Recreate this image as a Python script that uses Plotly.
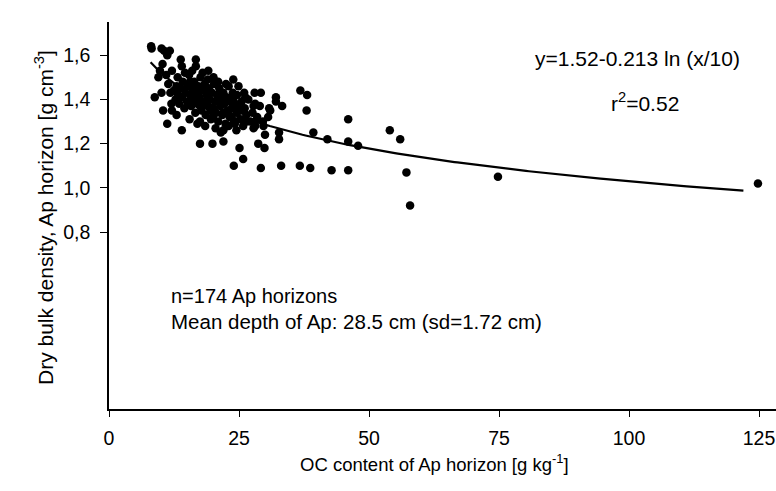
import numpy as np
import plotly.graph_objects as go

# Organic carbon content of the Ap horizon [g kg-1]
oc_content = [
    124.8, 74.8, 57.9, 57.2, 56.0, 54.0, 46.0, 46.0, 47.9, 46.0,
    42.8, 42.0, 39.3, 38.7, 36.7, 38.0, 38.1, 36.8, 33.1, 29.2,
    24.0, 25.8, 25.1, 29.9, 28.7, 32.7, 32.7, 30.0, 33.3, 32.1,
    32.1, 30.8, 30.6, 29.2, 28.1, 29.7, 28.1, 28.1, 26.5, 25.5,
    24.2, 23.6, 26.2, 24.6, 11.2, 14.0, 17.5, 19.9, 22.0, 17.5,
    27.8, 8.1, 10.1, 11.7, 11.2, 13.8, 16.7, 16.7, 10.3, 19.1,
    20.1, 23.9, 12.1, 14.6, 9.5, 8.8, 10.1, 10.4, 12.1, 27.8,
    31.0, 24.5, 22.0, 13.3, 15.6, 13.0, 11.4, 8.2, 10.6,
    12.5, 12.8, 13.2, 13.5, 13.8, 14.0, 14.2, 14.5, 14.7, 15.0,
    15.2, 15.4, 15.6, 15.8, 16.0, 16.2, 16.4, 16.6, 16.8, 17.0,
    17.2, 17.4, 17.6, 17.8, 18.0, 18.2, 18.4, 18.6, 18.8, 19.0,
    19.2, 19.4, 19.6, 19.8, 20.0, 20.2, 20.4, 20.6, 20.8, 21.0,
    21.2, 21.4, 21.6, 21.8, 22.0, 22.2, 22.4, 22.6, 22.8, 23.0,
    23.2, 23.4, 23.6, 23.8, 24.0, 24.3, 24.6, 24.9, 25.2, 25.5,
    25.8, 26.1, 26.4, 26.8, 27.2, 27.6, 28.0, 28.5, 29.0, 29.6,
    13.0, 15.5, 17.0, 18.5, 20.5, 21.5, 19.0, 21.0, 22.5, 16.0,
    18.0, 14.0, 11.8, 12.0, 11.0, 9.8, 20.0, 22.0, 24.0, 26.0,
    23.0, 25.0, 17.5, 19.5, 16.5,
]

# Dry bulk density of the Ap horizon [g cm-3]
bulk_density = [
    1.02, 1.05, 0.92, 1.07, 1.22, 1.26, 1.31, 1.21, 1.19, 1.08,
    1.08, 1.22, 1.25, 1.09, 1.10, 1.35, 1.42, 1.44, 1.10, 1.09,
    1.10, 1.13, 1.18, 1.18, 1.20, 1.22, 1.25, 1.24, 1.37, 1.41,
    1.39, 1.36, 1.32, 1.43, 1.38, 1.28, 1.28, 1.30, 1.30, 1.35,
    1.29, 1.32, 1.41, 1.42, 1.29, 1.26, 1.20, 1.20, 1.21, 1.30,
    1.27, 1.64, 1.63, 1.62, 1.60, 1.58, 1.58, 1.55, 1.56, 1.53,
    1.50, 1.49, 1.53, 1.52, 1.50, 1.41, 1.43, 1.35, 1.35, 1.37,
    1.35, 1.26, 1.26, 1.42, 1.48, 1.46, 1.47, 1.63, 1.62,
    1.44, 1.40, 1.50, 1.38, 1.45, 1.41, 1.48, 1.36, 1.43, 1.39,
    1.46, 1.51, 1.42, 1.37, 1.45, 1.40, 1.48, 1.34, 1.43, 1.38,
    1.46, 1.41, 1.50, 1.35, 1.44, 1.39, 1.47, 1.33, 1.42, 1.37,
    1.45, 1.40, 1.31, 1.43, 1.36, 1.47, 1.39, 1.34, 1.42, 1.30,
    1.45, 1.37, 1.40, 1.33, 1.43, 1.38, 1.29, 1.41, 1.35, 1.46,
    1.32, 1.39, 1.36, 1.43, 1.30, 1.38, 1.34, 1.46, 1.31, 1.39,
    1.28, 1.36, 1.33, 1.40, 1.30, 1.34, 1.43, 1.32, 1.37, 1.30,
    1.33, 1.31, 1.29, 1.28, 1.27, 1.25, 1.49, 1.48, 1.47, 1.53,
    1.52, 1.55, 1.43, 1.38, 1.51, 1.53, 1.32, 1.34, 1.41, 1.43,
    1.28, 1.36, 1.37, 1.35, 1.39,
]

# Regression: y = a - b * ln(x / 10)
fit_a = 1.52
fit_b = 0.213
fit_x_start = 8.0
fit_x_end = 122.0

x_ticks = [0, 25, 50, 75, 100, 125]
x_tick_labels = ["0", "25", "50", "75", "100", "125"]
y_ticks = [0.8, 1.0, 1.2, 1.4, 1.6]
y_tick_labels = ["0,8", "1,0", "1,2", "1,4", "1,6"]

FONT = "Liberation Sans, Arial, sans-serif"

fit_x = np.linspace(fit_x_start, fit_x_end, 200)
fit_y = fit_a - fit_b * np.log(fit_x / 10)

fig = go.Figure()
fig.add_trace(go.Scatter(
    x=oc_content, y=bulk_density, mode="markers",
    marker=dict(color="black", size=8.5, line=dict(width=0)),
    showlegend=False,
))
fig.add_trace(go.Scatter(
    x=fit_x, y=fit_y, mode="lines",
    line=dict(color="black", width=2.2),
    showlegend=False,
))

W, H = 776, 491
L, R, T, B = 109, 0, 22, 82
pw = W - L - R
ph = H - T - B

fig.update_layout(
    width=W, height=H,
    margin=dict(l=L, r=R, t=T, b=B),
    paper_bgcolor="white", plot_bgcolor="white",
    font=dict(family=FONT, size=19, color="black"),
    xaxis=dict(
        range=[0, pw / 5.2], showgrid=False, zeroline=False,
        showline=True, linecolor="black", linewidth=1.5,
        ticks="outside", ticklen=6, tickwidth=1.2, tickcolor="black",
        tickvals=x_ticks, ticktext=x_tick_labels,
        ticklabelstandoff=5,
        tickfont=dict(family=FONT, size=19.5),
    ),
    yaxis=dict(
        range=[0, 1.75], showgrid=False, zeroline=False,
        showline=True, linecolor="black", linewidth=1.5,
        ticks="outside", ticklen=7, tickwidth=1.2, tickcolor="black",
        tickvals=y_ticks, ticktext=y_tick_labels,
        ticklabelstandoff=6,
        tickfont=dict(family=FONT, size=19.5),
    ),
)

def px_x(p):
    return (p - L) / pw

def px_y(p):
    return (H - B - p) / ph

annotations = [
    dict(text="y=1.52-0.213 ln (x/10)", x=px_x(637), y=px_y(58),
         xanchor="center", yanchor="middle", font=dict(size=21)),
    dict(text="r<sup>2</sup>=0.52", x=px_x(609), y=px_y(102),
         xanchor="left", yanchor="middle", font=dict(size=21)),
    dict(text="n=174 Ap horizons", x=px_x(169), y=px_y(296),
         xanchor="left", yanchor="middle", font=dict(size=20)),
    dict(text="Mean depth of Ap: 28.5 cm (sd=1.72 cm)", x=px_x(169), y=px_y(321),
         xanchor="left", yanchor="middle", font=dict(size=20.5)),
    dict(text="OC content of Ap horizon [g kg<sup>-1</sup>]", x=px_x(298), y=px_y(463),
         xanchor="left", yanchor="middle", font=dict(size=18.5)),
    dict(text="Dry bulk density, Ap horizon [g cm<sup>-3</sup>]", x=px_x(44), y=px_y(218),
         xanchor="center", yanchor="middle", textangle=-90, font=dict(size=21)),
]
for a in annotations:
    a.update(xref="paper", yref="paper", showarrow=False)
fig.update_layout(annotations=annotations)

fig.write_html("out.html")
